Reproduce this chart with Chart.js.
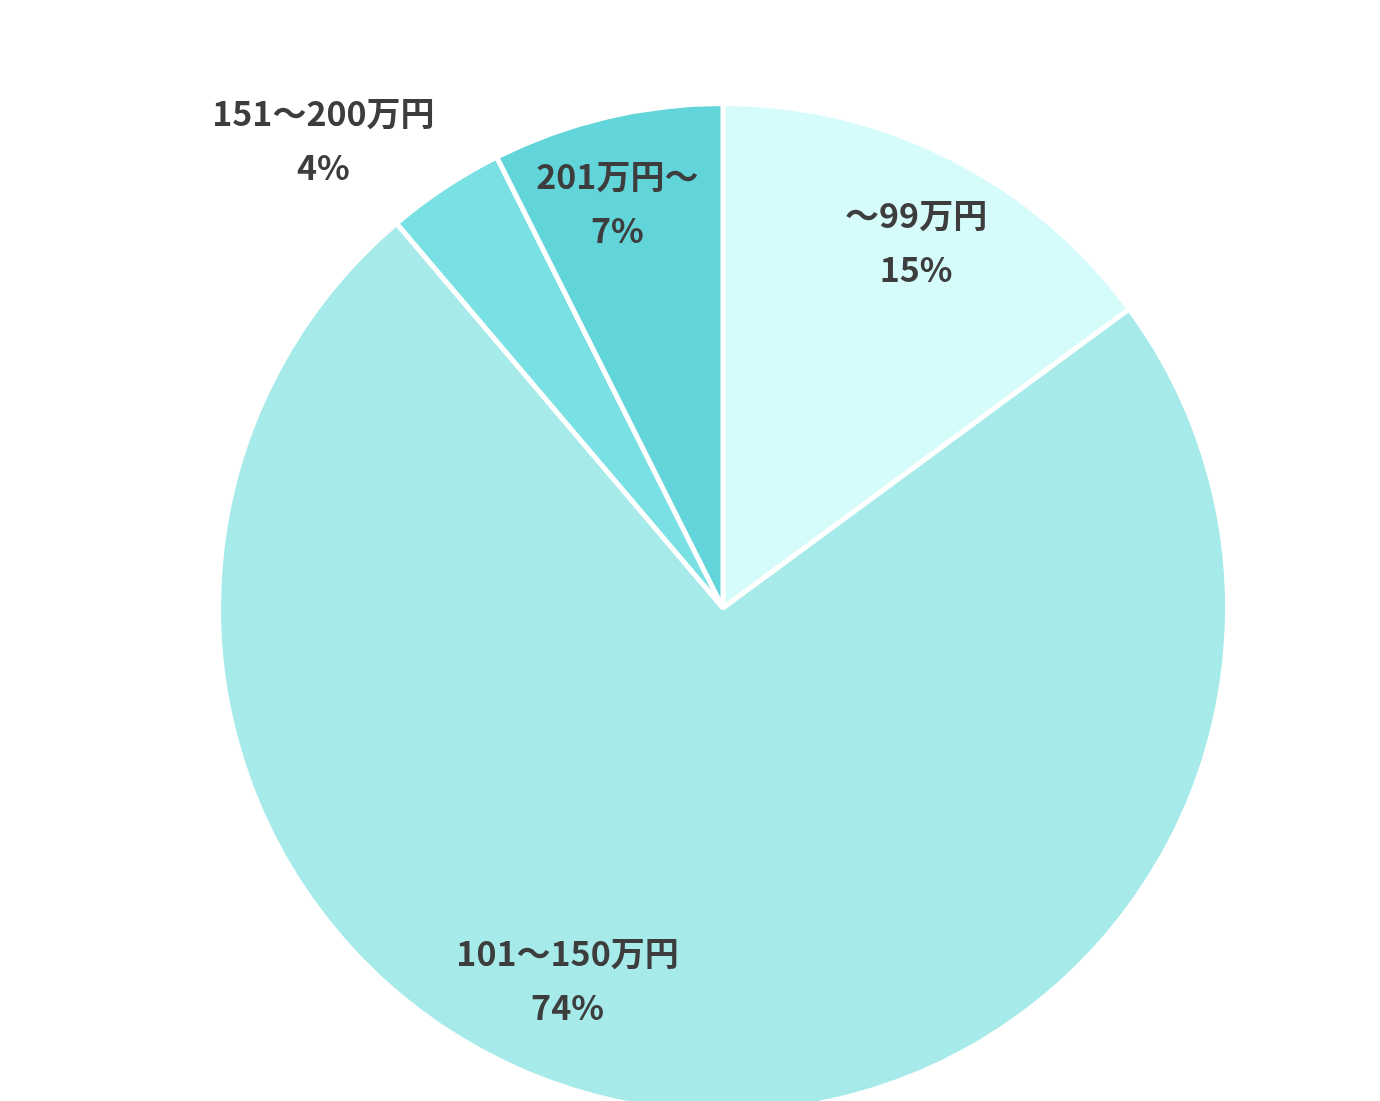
<!DOCTYPE html>
<html>
<head>
<meta charset="utf-8">
<script src="https://cdn.jsdelivr.net/npm/chart.js@4"></script>
<style>
  html, body { margin: 0; padding: 0; background: #fff; overflow: hidden; }
  #wrap { width: 1380px; height: 1115px; }
</style>
</head>
<body>
<div id="wrap"><canvas id="incomePie"></canvas></div>
<script>
const categories = ['～99万円', '101～150万円', '151～200万円', '201万円～'];
const shares = [14.9, 73.9, 3.8, 7.4];
const colors = ['#d5fbfb', '#a6eaea', '#79e0e3', '#62d5da'];

// where each label sits: shift from slice middle (deg) and distance as part of radius
const labelSpots = [
    { shift: 1, dist: 0.82 },
    { shift: 16, dist: 0.80 },
    { shift: -7, dist: 1.22 },
    { shift: -1.3, dist: 0.83 }
];

const sliceLabels = {
    id: 'sliceLabels',
    afterDraw(chart) {
        const ctx = chart.ctx;
        const arcs = chart.getDatasetMeta(0).data;
        ctx.save();
        ctx.font = 'bold 34px "Noto Sans CJK JP", sans-serif';
        ctx.fillStyle = '#3d3d3d';
        ctx.textAlign = 'center';
        ctx.textBaseline = 'middle';
        arcs.forEach((arc, i) => {
            const p = arc.getProps(['x', 'y', 'startAngle', 'endAngle', 'outerRadius'], true);
            const spot = labelSpots[i];
            const a = (p.startAngle + p.endAngle) / 2 + spot.shift * Math.PI / 180;
            const r = p.outerRadius * spot.dist;
            const cx = p.x + Math.cos(a) * r;
            const cy = p.y + Math.sin(a) * r;
            ctx.fillText(categories[i], cx, cy - 27);
            ctx.fillText(Math.round(shares[i]) + '%', cx, cy + 27);
        });
        ctx.restore();
    }
};

new Chart(document.getElementById('incomePie'), {
    type: 'pie',
    data: {
        labels: categories,
        datasets: [{
            data: shares,
            backgroundColor: colors,
            borderColor: '#ffffff',
            borderWidth: 5
        }]
    },
    options: {
        responsive: true,
        maintainAspectRatio: false,
        animation: false,
        layout: { padding: { top: 101, left: 66, right: 0, bottom: 0 } },
        plugins: {
            legend: { display: false },
            tooltip: { enabled: false }
        }
    },
    plugins: [sliceLabels]
});
</script>
</body>
</html>
